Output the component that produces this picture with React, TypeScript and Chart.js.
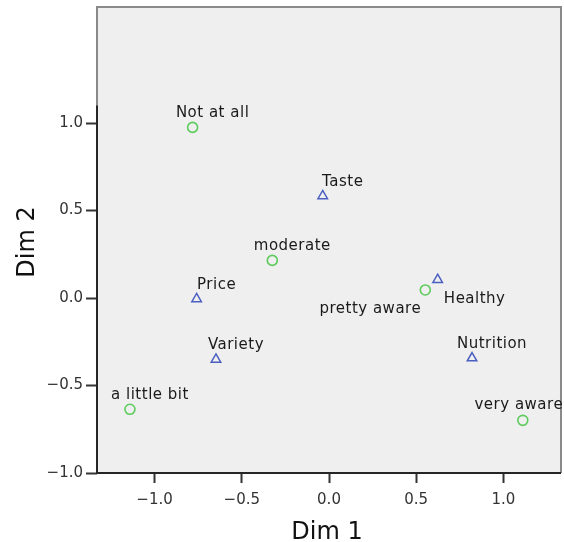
import React, { useEffect, useRef } from "react";
import { Chart, registerables } from "chart.js";
Chart.register(...registerables);

const awarenessLabels = ["Not at all", "a little bit", "moderate", "pretty aware", "very aware"];
const awarenessDim1 = [-0.782, -1.141, -0.325, 0.552, 1.111];
const awarenessDim2 = [0.975, -0.636, 0.215, 0.046, -0.699];

const featureLabels = ["Taste", "Price", "Healthy", "Variety", "Nutrition"];
const featureDim1 = [-0.036, -0.759, 0.623, -0.648, 0.82];
const featureDim2 = [0.583, -0.005, 0.105, -0.351, -0.343];

const tickValues = [-1.0, -0.5, 0.0, 0.5, 1.0];
const xTitle = "Dim 1";
const yTitle = "Dim 2";

// label placement (layout only): [dx of text centre, dy of baseline]
const labelPlacement: Record<string, [number, number]> = {
  default: [20, -10],
  "very aware": [-4, -11],
  Healthy: [37, 23],
  "pretty aware": [-55, 23],
};

const FONT = "'DejaVu Sans', sans-serif";

const fmt = (v: number) => (v < 0 ? "\u2212" : "") + Math.abs(v).toFixed(1);

const decorPlugin = {
  id: "decor",
  beforeDraw(chart: any) {
    const { ctx, chartArea: a } = chart;
    ctx.save();
    ctx.fillStyle = "#efefef";
    ctx.fillRect(a.left, a.top, a.right - a.left, a.bottom - a.top);
    ctx.restore();
  },
  beforeDatasetsDraw(chart: any) {
    const { ctx, chartArea: a, scales } = chart;
    const y = scales.y;
    ctx.save();
    ctx.lineWidth = 2;
    ctx.strokeStyle = "#8a8a8a";
    ctx.beginPath();
    ctx.moveTo(a.left, a.bottom);
    ctx.lineTo(a.left, a.top);
    ctx.lineTo(a.right, a.top);
    ctx.lineTo(a.right, a.bottom);
    ctx.stroke();
    ctx.strokeStyle = "#262626";
    ctx.beginPath();
    ctx.moveTo(a.left, y.getPixelForValue(1.1));
    ctx.lineTo(a.left, a.bottom);
    ctx.lineTo(a.right, a.bottom);
    ctx.stroke();
    ctx.restore();
  },
  afterDatasetsDraw(chart: any) {
    const { ctx, chartArea: a } = chart;
    ctx.save();
    ctx.font = `15px ${FONT}`;
    (ctx as any).letterSpacing = "0.5px";
    ctx.fillStyle = "#1a1a1a";
    ctx.textAlign = "center";
    ctx.textBaseline = "alphabetic";
    chart.data.datasets.forEach((ds: any, di: number) => {
      const meta = chart.getDatasetMeta(di);
      meta.data.forEach((pt: any, i: number) => {
        const name = ds.names[i];
        const [dx, dy] = labelPlacement[name] || labelPlacement.default;
        ctx.fillText(name, pt.x + dx, pt.y + dy);
      });
    });
    // axis titles
    (ctx as any).letterSpacing = "0px";
    ctx.fillStyle = "#111";
    ctx.font = `24px ${FONT}`;
    ctx.textAlign = "center";
    ctx.fillText(xTitle, (a.left + a.right) / 2 - 2, 539);
    ctx.translate(34, (a.top + a.bottom) / 2 + 2);
    ctx.rotate(-Math.PI / 2);
    ctx.fillText(yTitle, 0, 0);
    ctx.restore();
  },
};

const zeroPad = (s: any) => {
  s.paddingTop = 0;
  s.paddingBottom = 0;
  s.paddingLeft = 0;
  s.paddingRight = 0;
};

export default function App() {
  const ref = useRef<HTMLCanvasElement | null>(null);
  useEffect(() => {
    document.body.style.margin = "0";
    const canvas = ref.current!;
    const chart = new Chart(canvas, {
      type: "scatter",
      data: {
        datasets: [
          {
            label: "Awareness",
            names: awarenessLabels,
            data: awarenessDim1.map((x, i) => ({ x, y: awarenessDim2[i] })),
            pointStyle: "circle",
            pointRadius: 5,
            pointBorderWidth: 1.6,
            pointBorderColor: "#5ccb5c",
            pointBackgroundColor: "rgba(0,0,0,0)",
          } as any,
          {
            label: "Features",
            names: featureLabels,
            data: featureDim1.map((x, i) => ({ x, y: featureDim2[i] })),
            pointStyle: "triangle",
            pointRadius: 5.5,
            pointBorderWidth: 1.5,
            pointBorderColor: "#4a5fc1",
            pointBackgroundColor: "rgba(0,0,0,0)",
          } as any,
        ],
      },
      options: {
        responsive: false,
        animation: false,
        events: [],
        layout: { autoPadding: false, padding: { left: 0, top: 7, right: 3, bottom: 0 } },
        plugins: { legend: { display: false }, tooltip: { enabled: false } },
        scales: {
          x: {
            type: "linear",
            min: -1.33,
            max: 1.33,
            afterFit: (s: any) => {
              s.height = 69;
              zeroPad(s);
            },
            afterBuildTicks: (s: any) => {
              s.ticks = tickValues.map((v) => ({ value: v }));
            },
            border: { display: false },
            grid: {
              drawOnChartArea: false,
              drawTicks: true,
              tickLength: 10,
              tickWidth: 2,
              tickColor: "#333",
            },
            ticks: {
              padding: 8,
              color: "#333",
              font: { family: FONT, size: 15 },
              maxRotation: 0,
              callback: (v: any) => fmt(Number(v)),
            },
          },
          y: {
            type: "linear",
            min: -1.0,
            max: 1.663,
            afterFit: (s: any) => {
              s.width = 97;
              zeroPad(s);
            },
            afterBuildTicks: (s: any) => {
              s.ticks = tickValues.map((v) => ({ value: v }));
            },
            border: { display: false },
            grid: {
              drawOnChartArea: false,
              drawTicks: true,
              tickLength: 11,
              tickWidth: 2,
              tickColor: "#333",
            },
            ticks: {
              padding: 3,
              color: "#333",
              font: { family: FONT, size: 15 },
              callback: (v: any) => fmt(Number(v)),
            },
          },
        },
      } as any,
      plugins: [decorPlugin],
    });
    return () => chart.destroy();
  }, []);
  return (
    <canvas
      ref={ref}
      width={564}
      height={542}
      style={{ display: "block", width: 564, height: 542 }}
    />
  );
}
